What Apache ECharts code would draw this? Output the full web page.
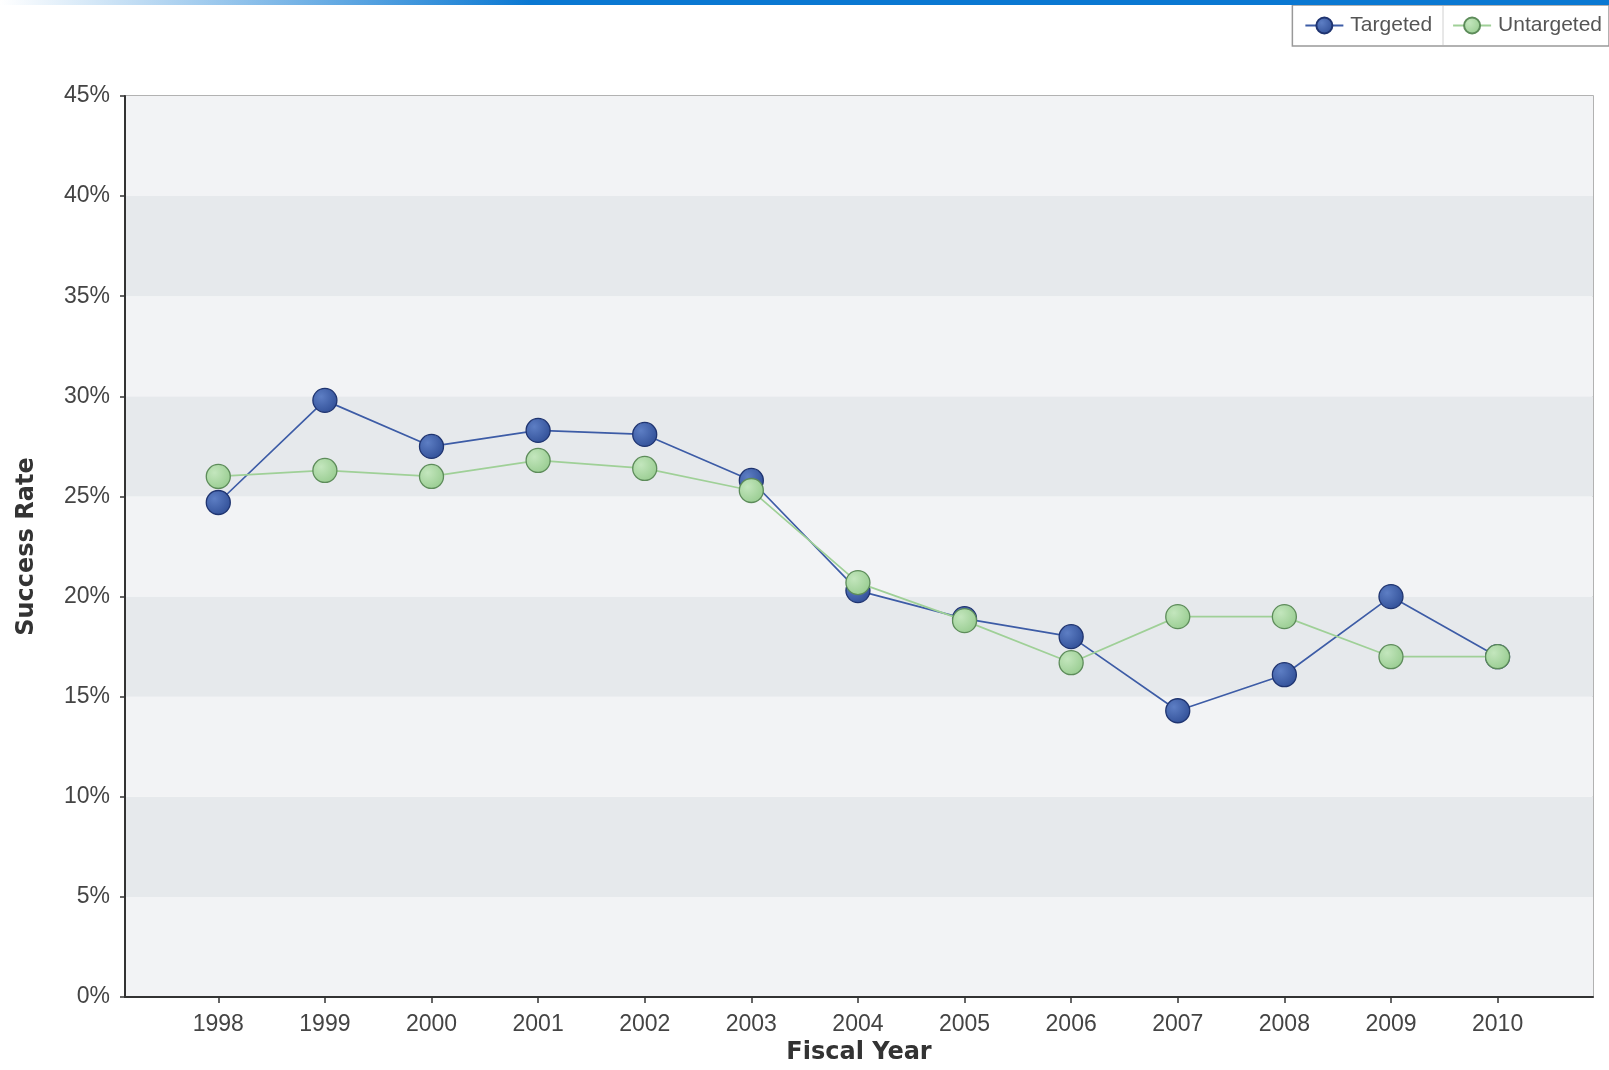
<!DOCTYPE html>
<html><head><meta charset="utf-8">
<script src="https://cdn.jsdelivr.net/npm/echarts@6/dist/echarts.min.js"></script>
<style>html,body{margin:0;padding:0;background:#fff}#c{width:1609px;height:1070px}</style>
</head><body><div id="c"></div>
<script>
const years = [1998,1999,2000,2001,2002,2003,2004,2005,2006,2007,2008,2009,2010];
const targeted = [24.7,29.8,27.5,28.3,28.1,25.8,20.3,18.9,18.0,14.3,16.1,20.0,17.0];
const untargeted = [26.0,26.3,26.0,26.8,26.4,25.3,20.7,18.8,16.7,19.0,19.0,17.0,17.0];
const yTicks = [0,5,10,15,20,25,30,35,40,45];

const chart = echarts.init(document.getElementById('c'));
const titleFont = 'DejaVu Sans';
const labelFont = 'Liberation Sans';
function pts(arr){ return years.map((y,i)=>[y,arr[i]]); }
function grad(c1,c2){ return new echarts.graphic.RadialGradient(0.35,0.35,0.8,[{offset:0,color:c1},{offset:1,color:c2}]); }

chart.setOption({
  animation:false,
  textStyle:{fontFamily:labelFont},
  graphic:[
    {type:'rect',left:0,top:0,shape:{width:1609,height:5},
      style:{fill:new echarts.graphic.LinearGradient(0,0,1,0,[{offset:0,color:'#ffffff'},{offset:0.33,color:'#0a78d2'},{offset:1,color:'#0a78d2'}])},z:10},
    {type:'line',shape:{x1:1443,y1:6,x2:1443,y2:45},style:{stroke:'#d0d0d0',lineWidth:1},z:20}
  ],
  legend:{right:0,top:5,orient:'horizontal',itemGap:20,itemWidth:38,itemHeight:20,
    padding:[10,7,10,12],borderColor:'#999',borderWidth:1.5,backgroundColor:'#fff',
    textStyle:{fontFamily:labelFont,fontSize:21,color:'#555',padding:[0,0,0,2]},
    data:['Targeted','Untargeted']},
  grid:{left:125,right:16,top:96,bottom:67,show:true,borderColor:'#999',borderWidth:1.5,backgroundColor:'transparent'},
  xAxis:{type:'value',min:1997.125,max:2010.895,
    name:'Fiscal Year',nameLocation:'middle',nameGap:40,
    nameTextStyle:{fontFamily:titleFont,fontSize:24,fontWeight:'bold',color:'#333'},
    axisLine:{show:true,lineStyle:{color:'#333',width:2}},
    axisTick:{show:true,length:6,lineStyle:{color:'#333',width:1.5},customValues:years},
    axisLabel:{fontFamily:labelFont,fontSize:23,color:'#444',margin:16,customValues:years,formatter:v=>String(v)},
    splitLine:{show:false}},
  yAxis:{type:'value',min:0,max:45,interval:5,
    name:'Success Rate',nameLocation:'middle',nameGap:86,nameRotate:90,
    nameTextStyle:{fontFamily:titleFont,fontSize:24,fontWeight:'bold',color:'#333'},
    axisLine:{show:true,lineStyle:{color:'#333',width:2}},
    axisTick:{show:true,length:5,lineStyle:{color:'#333',width:1.5}},
    axisLabel:{fontFamily:labelFont,fontSize:23,color:'#444',margin:15,formatter:v=>v+'%'},
    splitLine:{show:false},
    splitArea:{show:true,areaStyle:{color:['#f2f3f5','#e6e9ec']}}},
  series:[
    {name:'Targeted',type:'line',data:pts(targeted),symbol:'circle',symbolSize:24,z:3,
      lineStyle:{color:'#3d5ca6',width:1.7},
      itemStyle:{color:grad('#5d7ec4','#2c4a92'),borderColor:'#1f3470',borderWidth:1.3}},
    {name:'Untargeted',type:'line',data:pts(untargeted),symbol:'circle',symbolSize:24,z:4,
      lineStyle:{color:'#9fd097',width:1.7},
      itemStyle:{color:grad('#c3e6bd','#93c98b'),borderColor:'#5d8c5a',borderWidth:1.3}}
  ]
});
</script></body></html>
